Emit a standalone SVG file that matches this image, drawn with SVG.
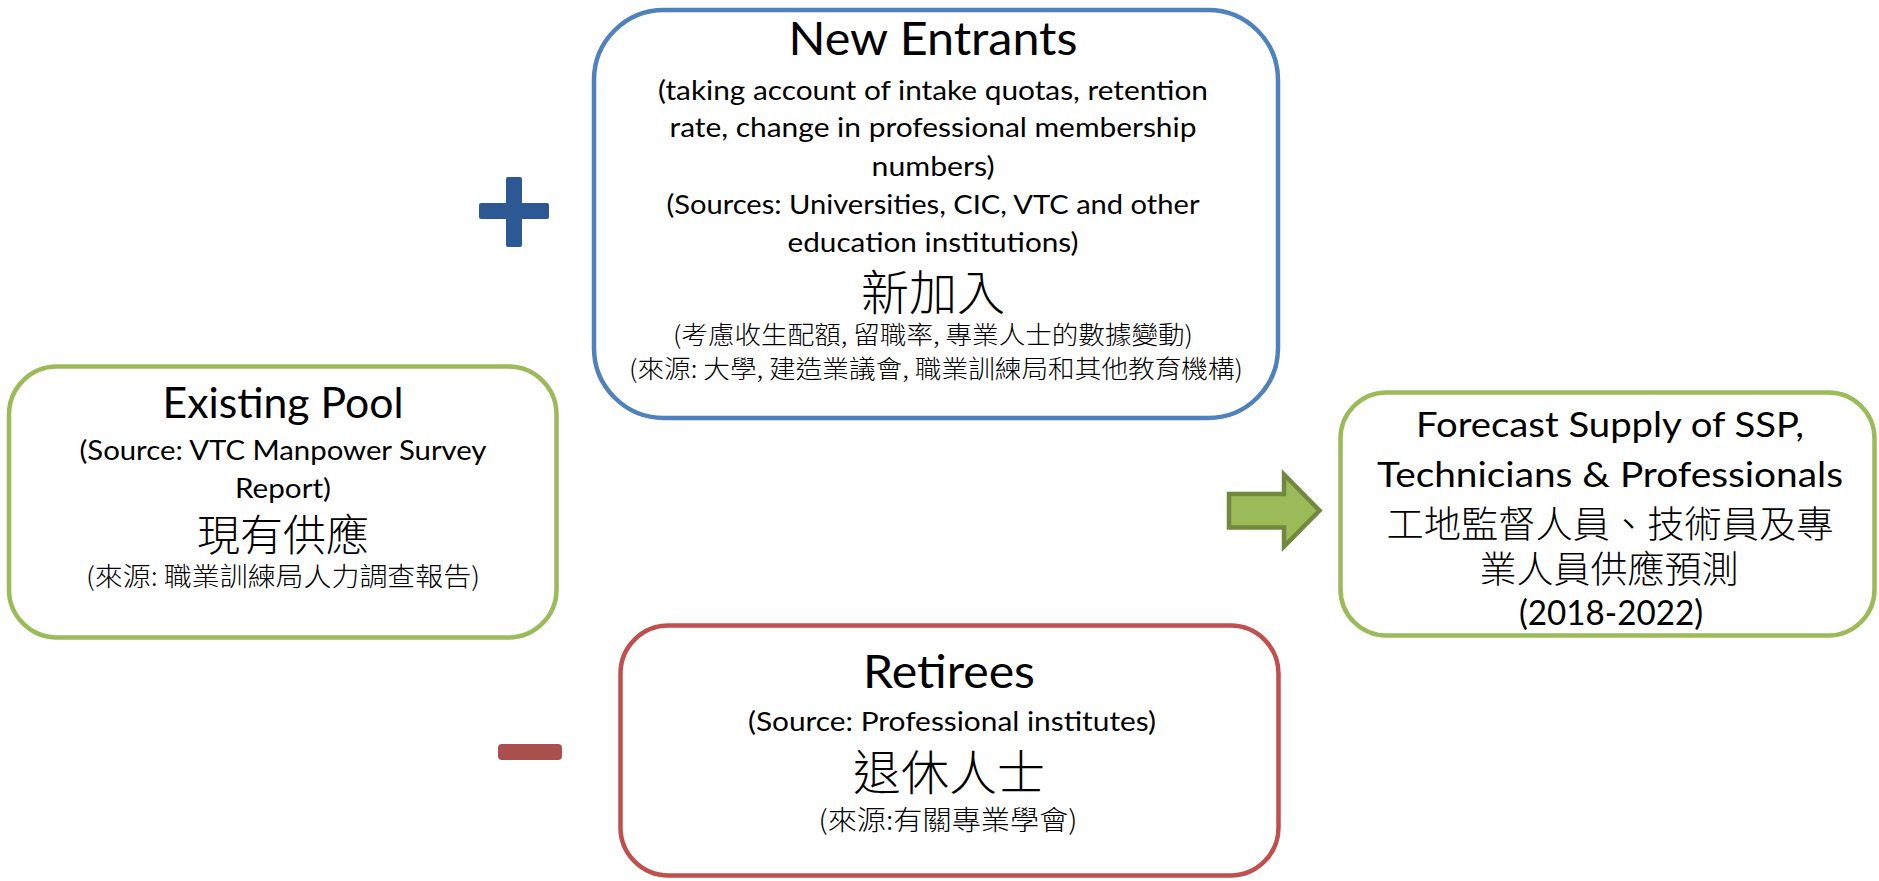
<svg xmlns="http://www.w3.org/2000/svg" width="1879" height="881" viewBox="0 0 1879 881">
<style>
.box{fill:#fff;stroke-width:4.5}
.blue{stroke:#4F81BD}
.green{stroke:#9BBB59}
.red{stroke:#C0504D}
text{text-anchor:middle;fill:#000}
.en{font-family:Lato,"Noto Sans",sans-serif}
.zh{font-family:"Noto Sans CJK TC","Noto Sans CJK SC",sans-serif;font-weight:300}
</style>
<rect width="1879" height="881" fill="#fff"/>
<g id="new-entrants">
<rect class="box blue" x="594" y="10" width="684" height="408" rx="70"/>
<text class="en" x="933" y="55" font-size="46" textLength="289" lengthAdjust="spacingAndGlyphs">New Entrants</text>
<text class="en" x="933" y="100" font-size="26.5" textLength="550" lengthAdjust="spacingAndGlyphs">(taking account of intake quotas, retention</text>
<text class="en" x="933" y="137" font-size="26.5" textLength="527" lengthAdjust="spacingAndGlyphs">rate, change in professional membership</text>
<text class="en" x="933" y="176" font-size="26.5" textLength="123" lengthAdjust="spacingAndGlyphs">numbers)</text>
<text class="en" x="933" y="214" font-size="26.5" textLength="533" lengthAdjust="spacingAndGlyphs">(Sources: Universities, CIC, VTC and other</text>
<text class="en" x="933" y="252" font-size="26.5" textLength="291" lengthAdjust="spacingAndGlyphs">education institutions)</text>
<text class="zh" x="933" y="310" font-size="48">新加入</text>
<text class="zh" x="933" y="344" font-size="25" textLength="520" lengthAdjust="spacingAndGlyphs">(考慮收生配額, 留職率, 專業人士的數據變動)</text>
<text class="zh" x="936" y="378" font-size="25" textLength="614" lengthAdjust="spacingAndGlyphs">(來源: 大學, 建造業議會, 職業訓練局和其他教育機構)</text>
</g>
<g id="existing-pool">
<rect class="box green" x="9" y="366.5" width="547.5" height="271" rx="48"/>
<text class="en" x="283" y="418" font-size="43" textLength="241" lengthAdjust="spacingAndGlyphs">Existing Pool</text>
<text class="en" x="283" y="460" font-size="26" textLength="407" lengthAdjust="spacingAndGlyphs">(Source: VTC Manpower Survey</text>
<text class="en" x="283" y="498" font-size="26" textLength="96" lengthAdjust="spacingAndGlyphs">Report)</text>
<text class="zh" x="283" y="551" font-size="43">現有供應</text>
<text class="zh" x="283" y="586" font-size="26" textLength="394" lengthAdjust="spacingAndGlyphs">(來源: 職業訓練局人力調查報告)</text>
</g>
<g id="retirees">
<rect class="box red" x="620.5" y="625.5" width="658" height="250" rx="48"/>
<text class="en" x="949" y="688" font-size="46" textLength="172" lengthAdjust="spacingAndGlyphs">Retirees</text>
<text class="en" x="952" y="731" font-size="26.5" textLength="408" lengthAdjust="spacingAndGlyphs">(Source: Professional institutes)</text>
<text class="zh" x="949" y="790" font-size="48">退休人士</text>
<text class="zh" x="948" y="830" font-size="27" textLength="259" lengthAdjust="spacingAndGlyphs">(來源:有關專業學會)</text>
</g>
<g id="forecast-supply">
<rect class="box green" x="1340.5" y="392.5" width="534" height="243" rx="46"/>
<text class="en" x="1610" y="437" font-size="35" textLength="388" lengthAdjust="spacingAndGlyphs">Forecast Supply of SSP,</text>
<text class="en" x="1610" y="487" font-size="35" textLength="466" lengthAdjust="spacingAndGlyphs">Technicians &amp; Professionals</text>
<text class="zh" x="1610" y="538" font-size="37" textLength="447" lengthAdjust="spacingAndGlyphs">工地監督人員、技術員及專</text>
<text class="zh" x="1609" y="583" font-size="37">業人員供應預測</text>
<text class="en" x="1611" y="625" font-size="35" textLength="184" lengthAdjust="spacingAndGlyphs">(2018-2022)</text>
</g>
<g id="operator-plus" fill="#2C5893">
<rect x="479" y="203" width="70" height="16" rx="2"/>
<rect x="506" y="177" width="16" height="70" rx="2"/>
</g>
<g id="operator-minus">
<rect x="498" y="744" width="64" height="16" rx="4" fill="#A94F4E"/>
</g>
<g id="connectors">
<polygon points="1229,494 1284,494 1284,474.5 1319.5,510.5 1284,546.5 1284,527.5 1229,527.5" fill="#9BBB59" stroke="#71893F" stroke-width="4.5"/>
</g>
</svg>
